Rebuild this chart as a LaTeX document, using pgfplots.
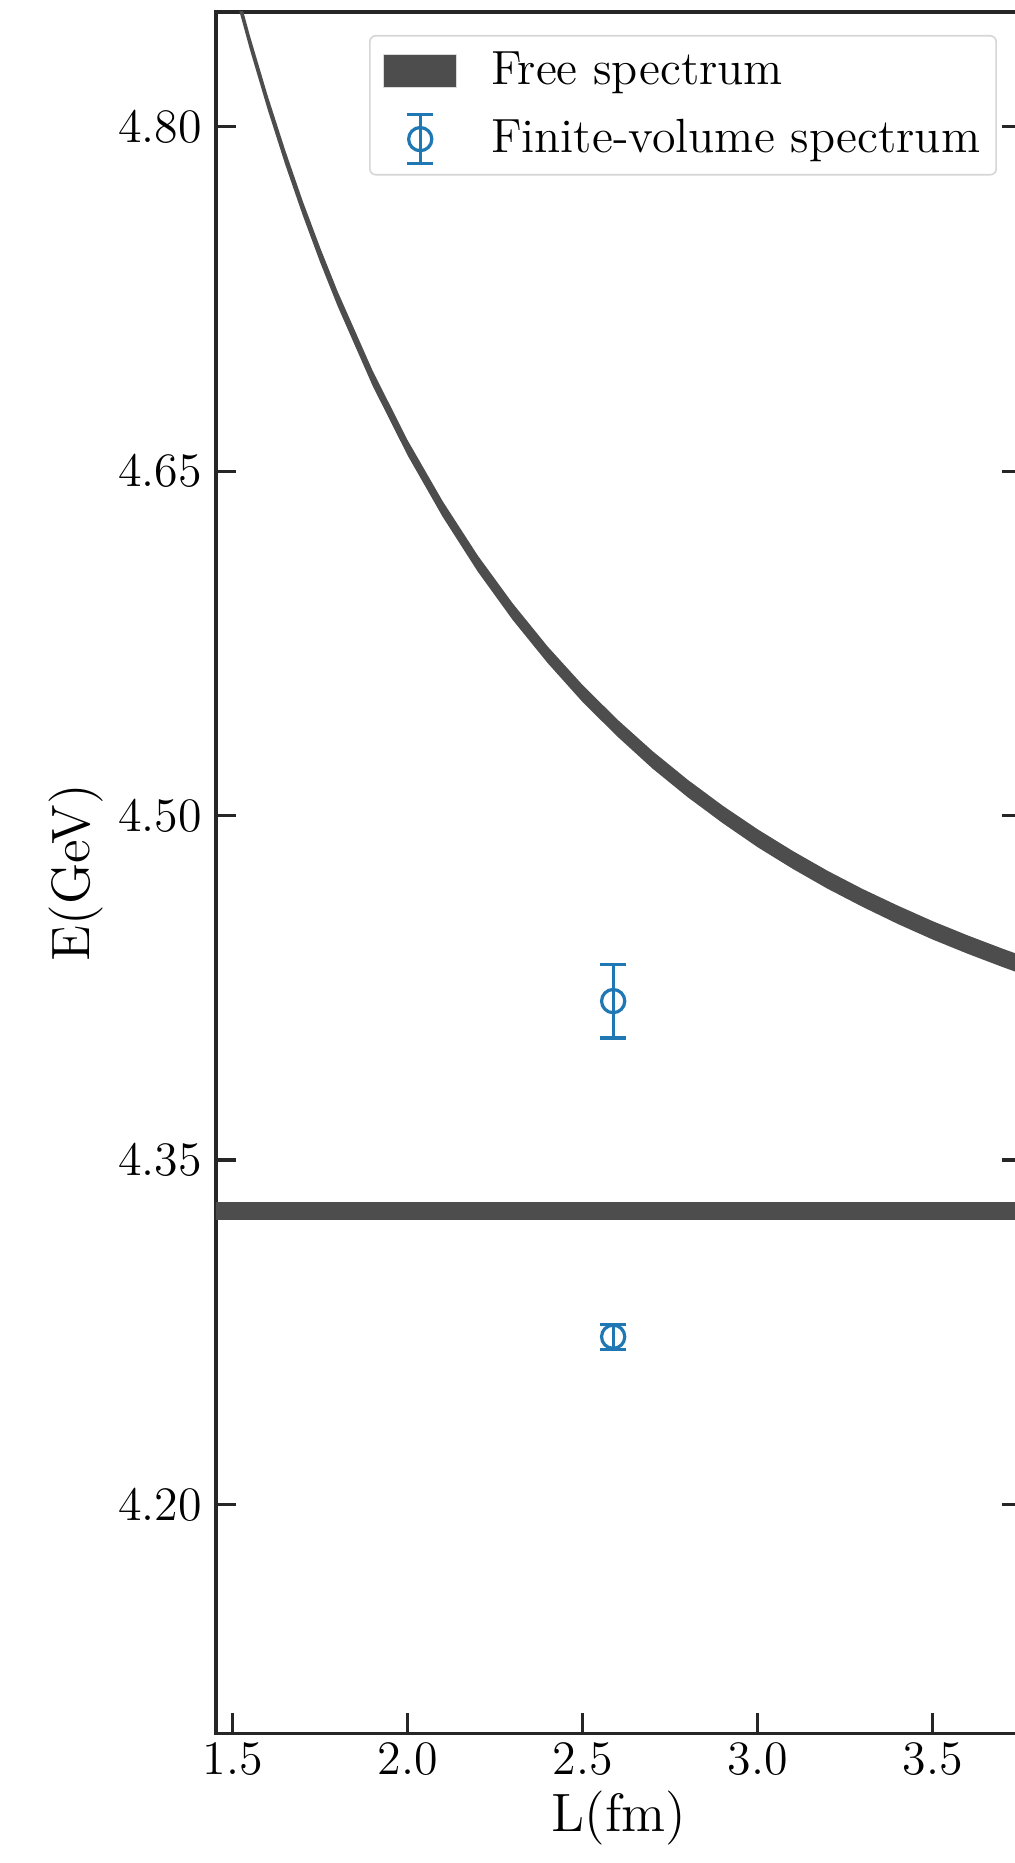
\documentclass[border=0pt]{standalone}
\usepackage{fontspec}
\usepackage{pgfplots}
\pgfplotsset{compat=1.18}
\definecolor{bandgray}{RGB}{77,77,77}
\definecolor{tabblue}{HTML}{1F77B4}
\definecolor{legframe}{RGB}{214,214,214}
\begin{document}
\begin{tikzpicture}
\begin{axis}[
  name=ax,
  scale only axis,
  width=201.5pt, height=430.33pt,
  xmin=1.4523, xmax=3.755,
  ymin=4.1003, ymax=4.850,
  xtick={1.5,2.0,2.5,3.0,3.5},
  ytick={4.20,4.35,4.50,4.65,4.80},
  xticklabels={1.5,2.0,2.5,3.0,3.5},
  yticklabels={4.20,4.35,4.50,4.65,4.80},
  tick align=inside,
  xtick pos=lower,
  ytick pos=both,
  major tick length=5pt,
  tick style={black!85, line width=0.8pt},
  axis line style={black!85, line width=0.8pt},
  ticklabel style={font=\fontsize{12}{14.4}\selectfont},
  xticklabel style={anchor=north, inner sep=0pt, yshift=-2pt},
  yticklabel style={anchor=east, inner sep=0pt, xshift=-3.3pt},
  xlabel={L(fm)},
  ylabel={E(GeV)},
  label style={font=\fontsize{13.5}{16}\selectfont},
  xlabel style={at={(axis description cs:0.5,-0.04926)}, anchor=center},
  ylabel style={at={(axis description cs:-0.1737,0.5)}, anchor=center},
  legend style={at={(axis description cs:0.969,0.98664)}, anchor=north east,
    draw=legframe, line width=0.4pt, rounded corners=1.5pt, fill=white,
    font=\fontsize{12}{14.4}\selectfont, inner xsep=2pt, inner ysep=2pt,
    row sep=3.25pt},
  legend cell align=left,
]
\addplot[draw=none, fill=bandgray,
  legend image code/.code={\path (0pt,0pt) (25.9pt,0pt);
    \fill[sharp corners, bandgray, draw=black!15, line width=0.3pt] (1.3pt,-4.15pt) rectangle (19.5pt,4.15pt);}]
 coordinates {
 (1.45,4.8912) (1.50,4.8610) (1.55,4.8332) (1.60,4.8075) (1.65,4.7836)
 (1.70,4.7615) (1.75,4.7409) (1.80,4.7218) (1.90,4.6871) (2.00,4.6568)
 (2.10,4.6301) (2.20,4.6063) (2.30,4.5852) (2.40,4.5664) (2.50,4.5494)
 (2.60,4.5343) (2.70,4.5204) (2.80,4.5080) (2.90,4.4967) (3.00,4.4862)
 (3.10,4.4768) (3.20,4.4681) (3.30,4.4602) (3.40,4.4528) (3.50,4.4460)
 (3.60,4.4398) (3.70,4.4340) (3.76,4.4307)
 (3.76,4.4387) (3.70,4.4420) (3.60,4.4478) (3.50,4.4540) (3.40,4.4608)
 (3.30,4.4680) (3.20,4.4759) (3.10,4.4846) (3.00,4.4940) (2.90,4.5043)
 (2.80,4.5156) (2.70,4.5280) (2.60,4.5417) (2.50,4.5568) (2.40,4.5736)
 (2.30,4.5924) (2.20,4.6133) (2.10,4.6369) (2.00,4.6634) (1.90,4.6937)
 (1.80,4.7282) (1.75,4.7473) (1.70,4.7677) (1.65,4.7898) (1.60,4.8135)
 (1.55,4.8392) (1.50,4.8670) (1.45,4.8972)
 } -- cycle;
\addlegendentry{Free spectrum}
\addplot[draw=none, fill=bandgray, forget plot]
 coordinates {(1.40,4.3238) (3.80,4.3238) (3.80,4.3316) (1.40,4.3316)} -- cycle;
\addplot[tabblue, only marks, mark=o, mark size=2.9pt,
  mark options={line width=0.8pt, tabblue},
  legend image code/.code={\path (0pt,0pt) (25.9pt,0pt);
    \draw[sharp corners, tabblue, line width=0.8pt] (10.4pt,-6.1pt)--(10.4pt,6.1pt)
      (7.2pt,-6.1pt)--(13.6pt,-6.1pt) (7.2pt,6.1pt)--(13.6pt,6.1pt);
    \draw[tabblue, line width=0.8pt] (10.4pt,0pt) circle (2.9pt);},
  error bars/.cd, y dir=both, y explicit,
  error bar style={line width=0.8pt, tabblue},
  error mark options={rotate=90, line width=0.8pt, mark size=3.2pt, tabblue}]
 coordinates {(2.587,4.4192) +- (0,0.0161) (2.587,4.2730) +- (0,0.0055)};
\addlegendentry{Finite-volume spectrum}
\end{axis}
\pgfresetboundingbox
\path[use as bounding box] ([shift={(-54pt,-32.43pt)}]ax.south west) rectangle ([shift={(-1.75pt,3pt)}]ax.north east);
\end{tikzpicture}
\end{document}
